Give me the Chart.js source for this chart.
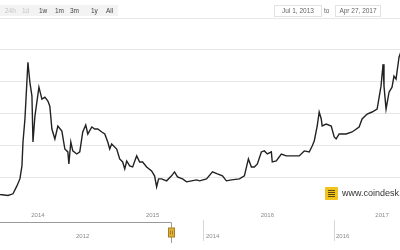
<!DOCTYPE html>
<html><head><meta charset="utf-8">
<script src="https://cdn.jsdelivr.net/npm/chart.js@4.4.0/dist/chart.umd.min.js"></script>
<style>
html,body{margin:0;padding:0;background:#fff;overflow:hidden;}
#wrap{position:relative;width:400px;height:250px;overflow:hidden;font-family:"Liberation Sans",Arial,sans-serif;}
#main{position:absolute;left:0;top:0;}
#nav{position:absolute;left:0;top:215px;}
.rs{position:absolute;top:5px;left:0;height:11px;width:118px;background:#f3f3f3;}
.btn{position:absolute;top:5px;height:11px;line-height:11px;font-size:6.5px;color:#444;}
.off{color:#c4c4c4;}
.box{position:absolute;top:5px;height:10px;line-height:10px;border:1px solid #e2e2e2;font-size:6.5px;color:#666;text-align:center;box-sizing:content-box;}
.to{position:absolute;top:5px;height:11px;line-height:11px;font-size:6.5px;color:#666;}
.logo{position:absolute;left:325px;top:187px;width:13px;height:13px;background:#f2c31b;border-radius:1px;}
.logo i{position:absolute;left:3px;top:3px;width:7px;height:7px;background:repeating-linear-gradient(0deg,#5a4a10 0 1px,transparent 1px 2px);}
.wm{position:absolute;left:342px;top:188px;font-size:9px;line-height:11px;color:#333;white-space:nowrap;}
</style></head>
<body>
<div id="wrap">
<canvas id="main" width="400" height="250"></canvas>
<canvas id="nav" width="400" height="35"></canvas>
<div class="rs"></div>
<div class="btn off" style="left:5px">24h</div>
<div class="btn off" style="left:22px">1d</div>
<div class="btn" style="left:39px">1w</div>
<div class="btn" style="left:55px">1m</div>
<div class="btn" style="left:70px">3m</div>
<div class="btn" style="left:91px">1y</div>
<div class="btn" style="left:106px">All</div>
<div class="box" style="left:274px;width:46px">Jul 1, 2013</div>
<div class="to" style="left:324px">to</div>
<div class="box" style="left:335px;width:44px">Apr 27, 2017</div>
<div class="logo"><i></i></div>
<div class="wm">www.coindesk.com</div>
</div>
<script>
// decimal-year dates and BPI close prices (USD)
const dates = [2013.496,2013.56,2013.62,2013.670,2013.739,2013.783,2013.817,2013.843,2013.861,2013.870,2013.887,2013.913,2013.930,2013.948,2013.957,2013.974,
2014.009,2014.035,2014.061,2014.087,2014.104,2014.122,2014.148,2014.174,2014.209,2014.235,2014.261,2014.270,2014.287,2014.304,2014.339,2014.365,2014.391,2014.417,2014.435,2014.470,2014.496,2014.522,2014.557,2014.583,2014.609,2014.626,2014.643,2014.687,2014.713,2014.739,2014.757,2014.774,2014.800,2014.826,2014.861,2014.887,2014.913,2014.948,2014.991,
2015.017,2015.035,2015.052,2015.078,2015.122,2015.165,2015.191,2015.217,2015.261,2015.296,2015.339,2015.383,2015.409,2015.470,2015.522,2015.565,2015.609,2015.643,2015.687,2015.757,2015.800,2015.835,2015.861,2015.887,2015.913,2015.948,2015.974,
2016.000,2016.035,2016.043,2016.078,2016.122,2016.165,2016.217,2016.278,2016.322,2016.365,2016.391,2016.409,2016.435,2016.452,2016.470,2016.478,2016.513,2016.557,2016.583,2016.600,2016.626,2016.687,2016.739,2016.800,2016.826,2016.870,2016.913,2016.957,2016.991,
2017.009,2017.017,2017.035,2017.061,2017.087,2017.104,2017.122,2017.148,2017.17,2017.19,2017.22,2017.25,2017.27,2017.30,2017.32];
const prices = [90,98,120,112,105,118,180,235,337,525,706,1152,996,886,525,729,
956,862,878,847,807,627,549,651,611,470,447,353,525,455,431,447,604,659,588,643,627,627,604,588,525,470,510,470,392,368,314,376,337,329,416,368,368,329,298,
259,172,235,235,220,259,290,251,235,212,220,227,220,235,290,274,259,220,227,235,259,392,329,329,353,447,455,
431,447,368,376,431,416,416,416,455,447,494,533,651,761,706,651,666,651,565,549,588,588,604,643,706,745,761,784,964,
1137,964,784,917,956,1043,1019,1192,1250,1100,1000,1050,1180,1240,1320];
const yearTicks = [2014,2015,2016,2017];
const navYearTicks = [2012,2014,2016];
const priceTicks = [0,250,500,750,1000,1250,1500];
const viewRange = [2013.6696,2017.1565];
const navRange = [2010.862,2017.015];
const selectedStart = 2013.496;

const FONT = '"Liberation Sans", Arial, sans-serif';

new Chart(document.getElementById('main'), {
  type: 'line',
  data: { datasets: [{
    data: dates.map((d,i)=>({x:d,y:prices[i]})),
    borderColor: '#222', borderWidth: 1.4, pointRadius: 0, tension: 0, fill: false
  }]},
  options: {
    responsive: false, animation: false, events: [],
    layout: { padding: { top: 18, bottom: 28, left: 0, right: 0 } },
    plugins: { legend: { display: false }, tooltip: { enabled: false } },
    scales: {
      x: {
        type: 'linear', min: viewRange[0], max: viewRange[1],
        afterBuildTicks: s => { s.ticks = yearTicks.map(v=>({value:v})); },
        ticks: { callback: v => String(v), font: { family: FONT, size: 6 }, color: '#8a8a8a', padding: 3, maxRotation: 0, autoSkip: false },
        grid: { display: false, drawTicks: false }, border: { display: false }
      },
      y: {
        min: 0, max: 1500,
        afterBuildTicks: s => { s.ticks = priceTicks.map(v=>({value:v})); },
        ticks: { display: false },
        grid: { color: c => c.tick && c.tick.value === 0 ? 'rgba(0,0,0,0)' : '#e8e8e8', drawTicks: false, lineWidth: 1 },
        border: { display: false }
      }
    }
  }
});

const navDecor = {
  id: 'navDecor',
  afterDraw(chart) {
    const ctx = chart.ctx, xs = chart.scales.x, ca = chart.chartArea;
    const px = Math.round(xs.getPixelForValue(selectedStart)) + 0.5;
    const ty = ca.top + 2.5;
    ctx.save();
    ctx.strokeStyle = '#9a9a9a'; ctx.lineWidth = 1;
    ctx.beginPath(); ctx.moveTo(0, ty); ctx.lineTo(px, ty); ctx.lineTo(px, 28); ctx.stroke();
    ctx.fillStyle = '#e3b23c'; ctx.strokeStyle = '#a87e1c';
    ctx.fillRect(px-3, 13, 6, 9); ctx.strokeRect(px-3, 13, 6, 9);
    ctx.beginPath(); ctx.moveTo(px-1, 15.5); ctx.lineTo(px-1, 19.5); ctx.moveTo(px+1, 15.5); ctx.lineTo(px+1, 19.5); ctx.stroke();
    ctx.restore();
  }
};

new Chart(document.getElementById('nav'), {
  type: 'line',
  data: { datasets: [] },
  plugins: [navDecor],
  options: {
    responsive: false, animation: false, events: [],
    layout: { padding: { top: 5, bottom: 8.8, left: 0, right: 0 } },
    plugins: { legend: { display: false }, tooltip: { enabled: false } },
    scales: {
      x: {
        type: 'linear', min: navRange[0], max: navRange[1],
        afterBuildTicks: s => { s.ticks = navYearTicks.map(v=>({value:v})); },
        ticks: { callback: v => String(v), align: 'start', labelOffset: 2, font: { family: FONT, size: 6 }, color: '#8a8a8a', padding: -8, maxRotation: 0, autoSkip: false },
        grid: { color: c => c.tick && c.tick.value === 2012 ? 'rgba(0,0,0,0)' : '#d6d6d6', drawTicks: false },
        border: { display: false }
      },
      y: { display: false, min: 0, max: 1 }
    }
  }
});
</script>
</body></html>
